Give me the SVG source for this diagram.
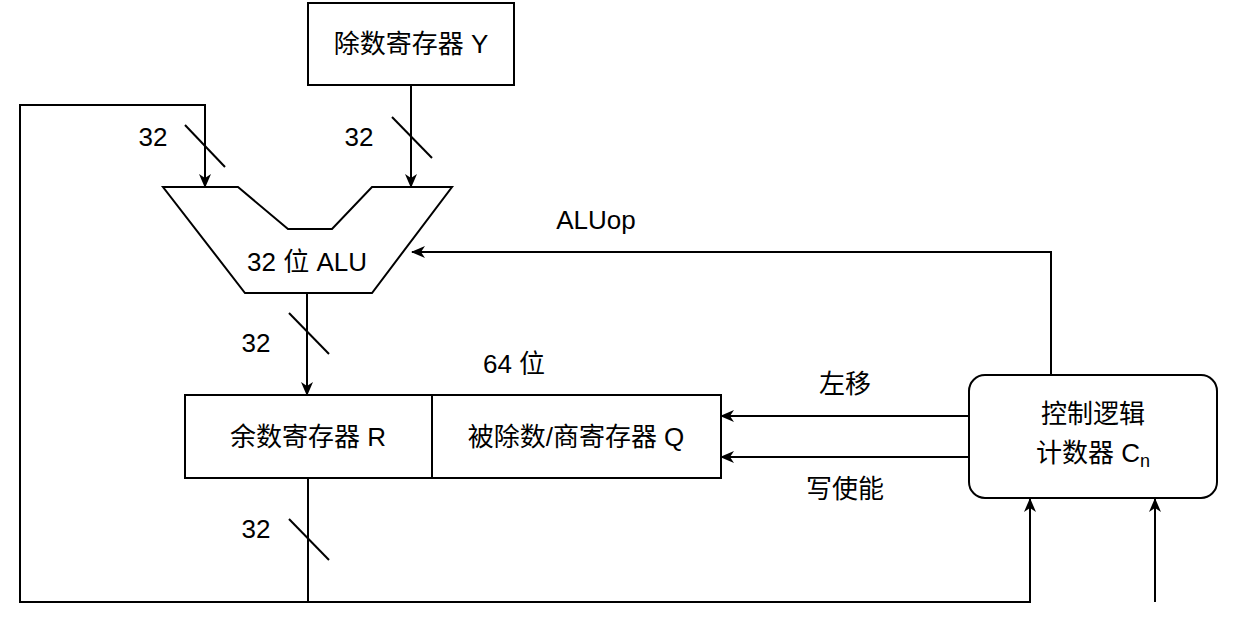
<svg xmlns="http://www.w3.org/2000/svg" width="1238" height="632" viewBox="0 0 1238 632">
<defs>
<marker id="a" markerWidth="14" markerHeight="14" refX="13" refY="7" orient="auto" markerUnits="userSpaceOnUse" viewBox="0 0 14 14"><path d="M0,1 L14,7 L0,13 L4,7 Z" fill="#000"/></marker>
<style>
.s{fill:none;stroke:#000;stroke-width:2}
.b{fill:#fff;stroke:#000;stroke-width:2}
text{font-family:"Liberation Sans","Noto Sans CJK SC",sans-serif;font-size:26px;fill:#000;text-anchor:middle;dominant-baseline:central}
</style>
</defs>
<rect width="1238" height="632" fill="#fff"/>
<g id="connectors">
<polyline class="s" points="308,478 308,602 20,602 20,105 205,105 205,187" marker-end="url(#a)"/>
<polyline class="s" points="308,602 1030,602 1030,499" marker-end="url(#a)"/>
<line class="s" x1="411" y1="85" x2="411" y2="187" marker-end="url(#a)"/>
<line class="s" x1="307" y1="293" x2="307" y2="395" marker-end="url(#a)"/>
<polyline class="s" points="1051,375 1051,252 412,252" marker-end="url(#a)"/>
<line class="s" x1="969" y1="416" x2="721" y2="416" marker-end="url(#a)"/>
<line class="s" x1="969" y1="457" x2="721" y2="457" marker-end="url(#a)"/>
<line class="s" x1="1155" y1="602" x2="1155" y2="499" marker-end="url(#a)"/>
<line class="s" x1="185" y1="125" x2="225" y2="167"/>
<line class="s" x1="392" y1="117" x2="432" y2="158"/>
<line class="s" x1="289" y1="313" x2="329" y2="354"/>
<line class="s" x1="289" y1="519" x2="329" y2="560"/>
<text x="153" y="137">32</text>
<text x="359" y="137">32</text>
<text x="256" y="343">32</text>
<text x="256" y="529">32</text>
<text x="596" y="220">ALUop</text>
<text x="845" y="384">左移</text>
<text x="845" y="489">写使能</text>
<text x="514" y="364">64 位</text>
</g>
<g id="divisorY"><rect class="b" x="308" y="3" width="206" height="82"/><text x="411" y="44">除数寄存器 Y</text></g>
<g id="alu"><polygon class="b" points="163,187 238,187 288,229 332,229 372,187 452,187 372,293 245,293"/><text x="307" y="262">32 位 ALU</text></g>
<g id="regR"><rect class="b" x="185" y="395" width="247" height="83"/><text x="308" y="437">余数寄存器 R</text></g>
<g id="regQ"><rect class="b" x="432" y="395" width="289" height="83"/><text x="576" y="437">被除数/商寄存器 Q</text></g>
<g id="control"><rect class="b" x="969" y="375" width="248" height="123" rx="16"/><text x="1093" y="414">控制逻辑</text><text x="1093" y="453">计数器 C<tspan font-size="18" dy="8">n</tspan></text></g>
</svg>
